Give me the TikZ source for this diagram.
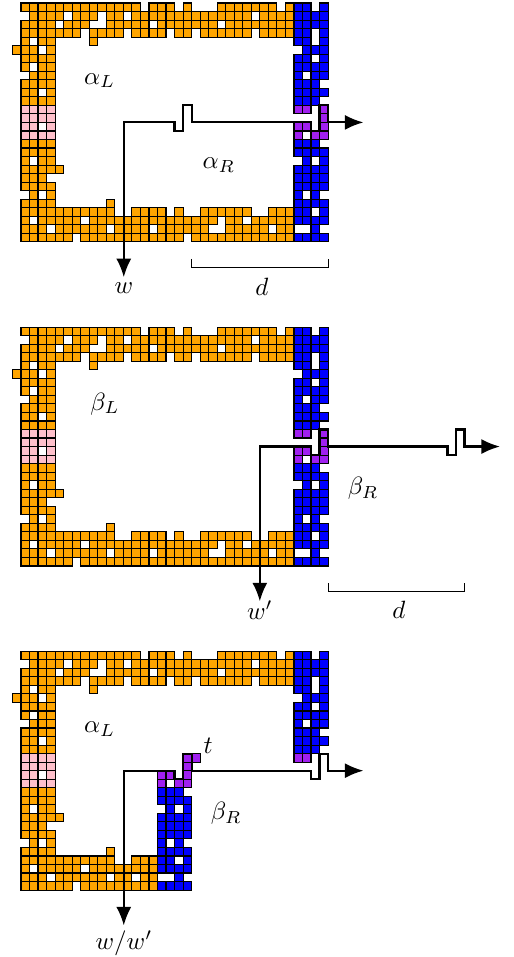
\documentclass[tikz,border=0pt]{standalone}
\usetikzlibrary{arrows.meta}
\definecolor{cellorange}{RGB}{255,165,0}
\definecolor{cellblue}{RGB}{0,0,255}
\definecolor{cellpurple}{RGB}{160,32,240}
\definecolor{cellpink}{RGB}{255,192,203}
\tikzset{
  cell/.style={draw=black,line width=0.45pt},
  wire/.style={draw=black,line width=0.85pt,line join=miter,{Latex[length=7.4pt,width=6pt]}-{Latex[length=7.4pt,width=6pt]}},
  span/.style={draw=black,line width=0.35pt},
  lab/.style={inner sep=0pt,text=black}
}
\newcommand{\cellrow}[3]{\foreach \ca/\cb in {#3}{\foreach \cc in {\ca,...,\cb}{\path[cell,fill=#1] (\cc,#2) rectangle ++(1,1);}}}
\newcommand{\TopLeftPart}{%
  \cellrow{cellorange}{0}{0/13,15/17,19/19,23/29,31/31}
  \cellrow{cellorange}{1}{1/4,6/8,10/11,13/26,28/31}
  \cellrow{cellorange}{2}{0/3,5/7,10/14,16/22,24/31}
  \cellrow{cellorange}{3}{0/6,8/11,13/16,18/19,21/26,28/31}
  \cellrow{cellorange}{4}{0/0,2/3,8/8}
  \cellrow{cellorange}{5}{-1/1,3/3}
  \cellrow{cellorange}{6}{0/3}
  \cellrow{cellorange}{7}{0/0,2/3}
  \cellrow{cellorange}{8}{1/3}
  \cellrow{cellorange}{9}{0/3}
  \cellrow{cellorange}{10}{0/1,3/3}
  \cellrow{cellorange}{11}{0/3}
  \cellrow{cellpink}{12}{0/3}
  \cellrow{cellpink}{13}{0/3}
  \cellrow{cellpink}{14}{0/1,3/3}
  \cellrow{cellpink}{15}{0/3}
  \cellrow{cellorange}{16}{0/3}
  \cellrow{cellorange}{17}{0/3}
  \cellrow{cellorange}{18}{0/0,2/3}
  \cellrow{cellorange}{19}{0/4}
  \cellrow{cellorange}{20}{0/2}
  \cellrow{cellorange}{21}{0/3}
  \cellrow{cellorange}{22}{1/1,3/3}
  \cellrow{cellorange}{23}{0/3,10/10}
  \cellrow{cellorange}{24}{0/10}
  \cellrow{cellorange}{25}{0/0,2/6,8/12}
  \cellrow{cellorange}{26}{0/2,4/9,11/12}
  \cellrow{cellorange}{27}{0/5,7/12}
  \cellrow{cellblue}{0}{32/33,35/35}
  \cellrow{cellblue}{1}{32/35}
  \cellrow{cellblue}{2}{32/35}
  \cellrow{cellblue}{3}{32/33,35/35}
  \cellrow{cellblue}{4}{32/33,35/35}
  \cellrow{cellblue}{5}{33/35}
  \cellrow{cellblue}{6}{32/33,35/35}
  \cellrow{cellblue}{7}{32/35}
  \cellrow{cellblue}{8}{32/32,34/35}
  \cellrow{cellblue}{9}{32/34}
  \cellrow{cellblue}{10}{32/35}
  \cellrow{cellblue}{11}{32/34}
  \cellrow{cellpurple}{12}{32/33}
}
\newcommand{\MiddlePart}{%
  \cellrow{cellorange}{24}{13/16,18/18,21/26}
  \cellrow{cellorange}{25}{13/22,24/25,27/28}
  \cellrow{cellorange}{26}{13/14,16/21,24/28}
  \cellrow{cellorange}{27}{13/18,20/28}
}
\newcommand{\RightEndPart}{%
  \cellrow{cellorange}{24}{29/31}
  \cellrow{cellorange}{25}{29/31}
  \cellrow{cellorange}{26}{30/31}
  \cellrow{cellorange}{27}{29/31}
  \cellrow{cellpurple}{12}{35/35}
  \cellrow{cellpurple}{13}{35/35}
  \cellrow{cellpurple}{14}{32/33,35/35}
  \cellrow{cellpurple}{15}{32/32,34/35}
  \cellrow{cellblue}{16}{32/34}
  \cellrow{cellblue}{17}{32/35}
  \cellrow{cellblue}{18}{33/33,35/35}
  \cellrow{cellblue}{19}{32/35}
  \cellrow{cellblue}{20}{32/35}
  \cellrow{cellblue}{21}{32/35}
  \cellrow{cellblue}{22}{32/32,34/34}
  \cellrow{cellblue}{23}{32/35}
  \cellrow{cellblue}{24}{32/33,35/35}
  \cellrow{cellblue}{25}{32/35}
  \cellrow{cellblue}{26}{34/34}
  \cellrow{cellblue}{27}{32/35}
}
\begin{document}
\begin{tikzpicture}[x=3.412pt,y=-3.412pt]
\useasboundingbox (-2.462,-0.352) rectangle (57.796,111.846);
% panel 1
\begin{scope}
  \TopLeftPart \MiddlePart \RightEndPart
  \coordinate (a1) at (12.05,32.15);
  \coordinate (b1) at (40.15,14);
  \draw[wire] (a1) -- (12.05,14) -- (18,14) -- (18,15) -- (19,15) -- (19,12) -- (20,12) -- (20,14)
     -- (34,14) -- (34,15) -- (35,15) -- (35,12) -- (36,12) -- (36,14) -- (b1);
  \coordinate (s1a) at (20,30);
  \coordinate (s1b) at (36,30);
  \draw[span] (s1a) -- ++(0,1) -| (s1b);
  \node[lab] (alphaL1) at (9.22,9.1) {$\alpha_L$};
  \node[lab] (alphaR1) at (23.2,19) {$\alpha_R$};
  \node[lab] (w1) at (12.07,33.4) {$w$};
  \node[lab] (d1) at (28.25,33.3) {$d$};
\end{scope}
% panel 2
\begin{scope}[shift={(0,38)}]
  \TopLeftPart \MiddlePart \RightEndPart
  \cellrow{cellorange}{27}{19/19}
  \coordinate (a2) at (28,32.15);
  \coordinate (b2) at (56.15,14);
  \draw[wire] (a2) -- (28,14) -- (34,14) -- (34,15) -- (35,15) -- (35,12) -- (36,12) -- (36,14)
     -- (50,14) -- (50,15) -- (51,15) -- (51,12) -- (52,12) -- (52,14) -- (b2);
  \coordinate (s2a) at (36,30);
  \coordinate (s2b) at (52,30);
  \draw[span] (s2a) -- ++(0,1) -| (s2b);
  \node[lab] (betaL2) at (9.85,9) {$\beta_L$};
  \node[lab] (betaR2) at (40.1,18.9) {$\beta_R$};
  \node[lab] (w2) at (28,33.2) {$w'$};
  \node[lab] (d2) at (44.3,33.2) {$d$};
\end{scope}
% panel 3
\begin{scope}[shift={(0,76)}]
  \TopLeftPart
  \begin{scope}[shift={(-16,0)}]
    \RightEndPart
  \end{scope}
  \cellrow{cellpurple}{12}{20/20}
  \coordinate (a3) at (12.05,32.15);
  \coordinate (b3) at (40.15,14);
  \draw[wire] (a3) -- (12.05,14) -- (18,14) -- (18,15) -- (19,15) -- (19,12) -- (20,12) -- (20,14)
     -- (34,14) -- (34,15) -- (35,15) -- (35,12) -- (36,12) -- (36,14) -- (b3);
  \node[lab] (alphaL3) at (9.22,9.1) {$\alpha_L$};
  \node[lab] (betaR3) at (24.05,19) {$\beta_R$};
  \node[lab] (t3) at (21.95,11.1) {$t$};
  \node[lab] (ww3) at (12.07,34.2) {$w/w'$};
\end{scope}
\end{tikzpicture}
\end{document}
